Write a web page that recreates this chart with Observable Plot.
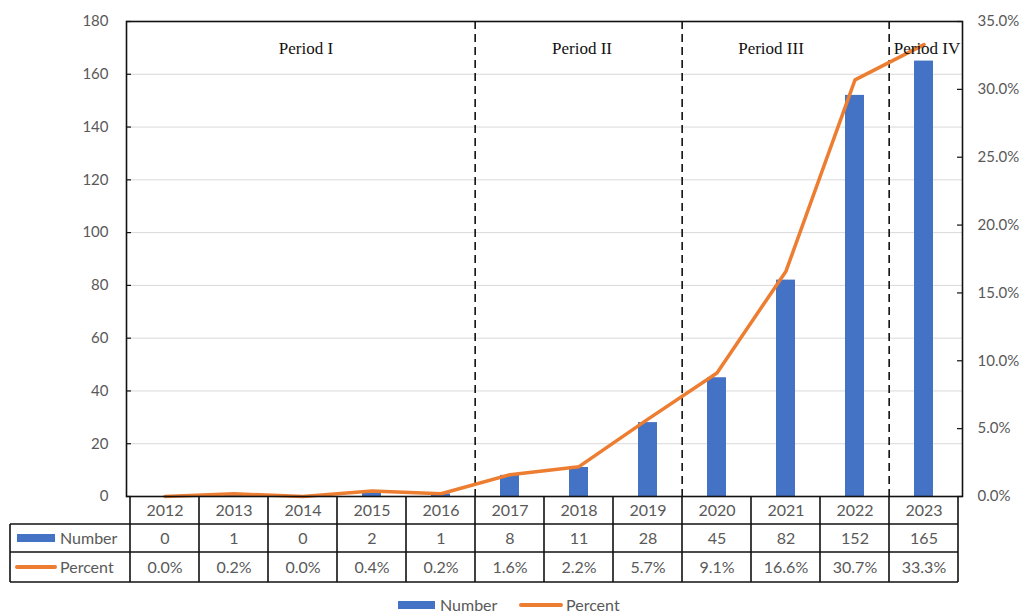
<!DOCTYPE html>
<html><head><meta charset="utf-8">
<script src="https://cdn.jsdelivr.net/npm/d3@7"></script>
<script src="https://cdn.jsdelivr.net/npm/@observablehq/plot@0.6"></script>
<style>html,body{margin:0;padding:0;background:#fff} svg{display:block}</style>
</head><body><div id="chart"></div>
<script>
const years = ["2012","2013","2014","2015","2016","2017","2018","2019","2020","2021","2022","2023"];
const numbers = [0,1,0,2,1,8,11,28,45,82,152,165];
const percents = [0.0,0.2,0.0,0.4,0.2,1.6,2.2,5.7,9.1,16.6,30.7,33.3];
const leftTicks = [0,20,40,60,80,100,120,140,160,180];
const rightTicks = [0,5,10,15,20,25,30,35];
const periodLabels = ["Period I","Period II","Period III","Period IV"];
const periodAnchorYears = ["2014","2018","2021","2023"];
const periodBoundaries = ["2017","2020","2023"];
const seriesNames = ["Number","Percent"];

const NMAX = 180, PMAX = 35;
const p2n = p => p * NMAX / PMAX;
const data = years.map((year, i) => ({year, number: numbers[i], percent: percents[i], pn: p2n(percents[i])}));
const periods = periodLabels.map((label, i) => ({label, year: periodAnchorYears[i]}));

const W = 1024, H = 615, ML = 126, MR = 62, MT = 21, MB = 119;
const FW = W - ML - MR;
const step = FW / years.length;
const BLUE = "#4472C4", ORANGE = "#ED7D31", GRAY = "#595959";

const chart = Plot.plot({
  width: W, height: H,
  marginLeft: ML, marginRight: MR, marginTop: MT, marginBottom: MB,
  style: {fontFamily: "Lato", fontSize: "15px", color: GRAY, background: "#fff"},
  x: {domain: years, padding: 0, axis: null},
  y: {domain: [0, NMAX], axis: null},
  marks: [
    Plot.gridY(leftTicks.filter(d => d > 0 && d < NMAX), {stroke: "#d9d9d9", strokeOpacity: 1, strokeWidth: 1}),
    Plot.barY(data, {x: "year", y: "number", fill: BLUE, insetLeft: 25, insetRight: 25}),
    Plot.ruleX(periodBoundaries, {x: d => d, dx: -step / 2, stroke: "#111", strokeWidth: 1.6, strokeDasharray: "8,5"}),
    Plot.line(data, {x: "year", y: "pn", stroke: ORANGE, strokeWidth: 3.5, strokeLinejoin: "round", strokeLinecap: "round"}),
    Plot.frame({stroke: "#111", strokeWidth: 1.6}),
    Plot.axisY(leftTicks, {anchor: "left", tickSize: 0, tickPadding: 18, fill: GRAY, fontSize: 15}),
    Plot.axisY(rightTicks.map(p2n), {anchor: "right", tickSize: 0, tickPadding: 15, fill: GRAY, fontSize: 15,
      tickFormat: d => (d * PMAX / NMAX).toFixed(1) + "%"}),
    Plot.tickY(leftTicks, {y: d => d, insetRight: FW - 5, stroke: "#111", strokeWidth: 1.2}),
    Plot.tickY(rightTicks.map(p2n), {y: d => d, insetLeft: FW - 5, stroke: "#111", strokeWidth: 1.2}),
    Plot.text(periods.filter(d => d.label !== "Period III"), {x: "year", text: "label", frameAnchor: "top", lineAnchor: "middle", dy: 27,
      fontFamily: "Liberation Serif", fontSize: 17, fill: "#111", dx: 3}),
    Plot.text(periods.filter(d => d.label === "Period III"), {x: "year", text: "label", frameAnchor: "top", lineAnchor: "middle", dy: 27,
      fontFamily: "Liberation Serif", fontSize: 17, fill: "#111", dx: -15}),
    Plot.text(data, {x: "year", text: "year", frameAnchor: "bottom", lineAnchor: "middle", dy: 14, fill: GRAY, fontSize: 16}),
    Plot.text(data, {x: "year", text: d => String(d.number), frameAnchor: "bottom", lineAnchor: "middle", dy: 42, fill: GRAY, fontSize: 16}),
    Plot.text(data, {x: "year", text: d => d.percent.toFixed(1) + "%", frameAnchor: "bottom", lineAnchor: "middle", dy: 71, fill: GRAY, fontSize: 16})
  ]
});
document.getElementById("chart").append(chart);

// Data table grid, row headers, and legend
const svg = d3.select(chart);
const xs = chart.scale("x");
const bounds = years.map(y => xs.apply(y)).concat([xs.apply(years[years.length - 1]) + xs.bandwidth]);
const y0 = H - MB;
const rows = [y0, y0 + 28, y0 + 56, y0 + 86];
const tableLeft = 10;
const g = svg.append("g").attr("stroke", "#111").attr("stroke-width", 1.6).attr("fill", "none");
bounds.forEach(x => g.append("line").attr("x1", x).attr("x2", x).attr("y1", rows[0]).attr("y2", rows[3]));
g.append("line").attr("x1", tableLeft).attr("x2", tableLeft).attr("y1", rows[1]).attr("y2", rows[3]);
[rows[1], rows[2], rows[3]].forEach(y => g.append("line").attr("x1", tableLeft).attr("x2", bounds[bounds.length - 1]).attr("y1", y).attr("y2", y));

const hdr = svg.append("g").attr("font-family", "Lato").attr("font-size", 16).attr("fill", GRAY).attr("text-anchor", "start");
// Number key
hdr.append("rect").attr("x", 17).attr("y", (rows[1] + rows[2]) / 2 - 4).attr("width", 38).attr("height", 8).attr("fill", BLUE);
hdr.append("text").attr("x", 60).attr("y", (rows[1] + rows[2]) / 2).attr("dy", "0.35em").text(seriesNames[0]);
// Percent key
hdr.append("line").attr("x1", 17).attr("x2", 55).attr("y1", (rows[2] + rows[3]) / 2).attr("y2", (rows[2] + rows[3]) / 2)
  .attr("stroke", ORANGE).attr("stroke-width", 4).attr("stroke-linecap", "round");
hdr.append("text").attr("x", 60).attr("y", (rows[2] + rows[3]) / 2).attr("dy", "0.35em").text(seriesNames[1]);

// Bottom legend
const lg = svg.append("g").attr("font-family", "Lato").attr("font-size", 16).attr("fill", GRAY).attr("text-anchor", "start");
const ly = 605;
lg.append("rect").attr("x", 398).attr("y", ly - 4).attr("width", 37).attr("height", 8).attr("fill", BLUE);
lg.append("text").attr("x", 440).attr("y", ly).attr("dy", "0.35em").text(seriesNames[0]);
lg.append("line").attr("x1", 521).attr("x2", 561).attr("y1", ly).attr("y2", ly)
  .attr("stroke", ORANGE).attr("stroke-width", 4).attr("stroke-linecap", "round");
lg.append("text").attr("x", 566).attr("y", ly).attr("dy", "0.35em").text(seriesNames[1]);
</script>
</body></html>
